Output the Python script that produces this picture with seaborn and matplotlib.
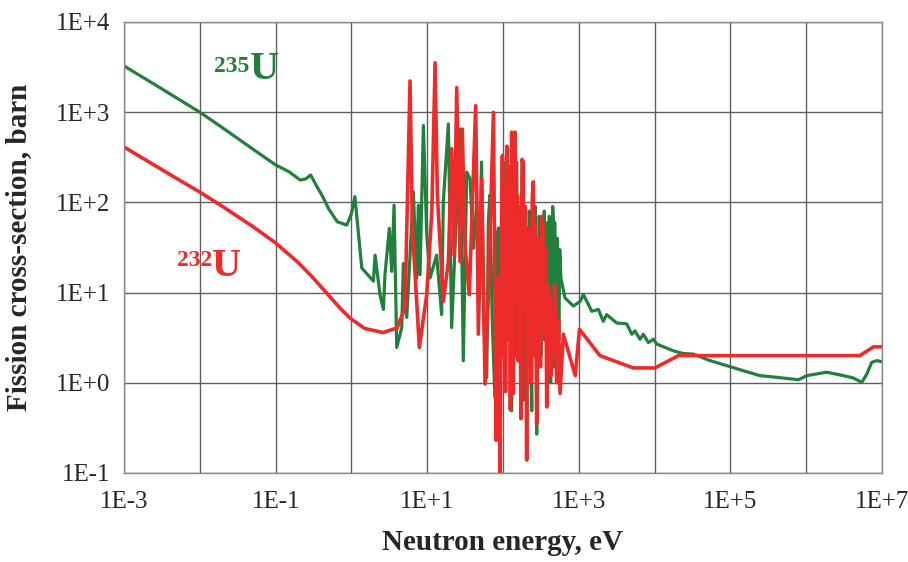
import matplotlib
matplotlib.use("Agg")
import matplotlib.pyplot as plt
from matplotlib.ticker import NullLocator
import seaborn as sns
import pandas as pd

# ─────────────────────────────────────────────
# Dane (energia w eV, przekrój w barnach)
u235_energy = [
    0.001, 0.0022, 0.005, 0.01, 0.02, 0.05, 0.1, 0.15, 0.21, 0.25,
    0.29, 0.35, 0.42, 0.5, 0.65, 0.87, 1.0, 1.11, 1.37, 1.95,
    2.05, 2.38, 2.64, 2.77, 3.16, 3.4, 3.65, 3.96, 4.61, 4.84,
    5.37, 6.56, 7.26, 7.63, 8.04, 8.9, 9.85, 10.9, 13.3, 15.5,
    16.3, 19.0, 21.0, 24.5, 27.1, 29.9, 33.2, 36.7, 40.6, 45.0,
    48.0, 52.0, 56.0, 61.0, 64.0, 67.0, 72.0, 78.0, 82.0, 87.0,
    91.0, 96.0, 101, 106, 111, 117, 123, 130, 137, 144,
    151, 159, 167, 172, 176, 181, 185, 192, 199, 205,
    214, 222, 230, 239, 245, 251, 258, 265, 271, 278,
    285, 293, 300, 308, 316, 324, 332, 340, 350, 360,
    368, 377, 390, 400, 408, 417, 425, 435, 445, 452,
    461, 470, 480, 490, 500, 520, 545, 560, 580, 658,
    848, 1040, 1150, 1480, 1810, 2100, 2330, 3160, 4290, 4990,
    5500, 6410, 7100, 8260, 9620, 10700, 17700, 23900, 32400, 53800,
    89300, 148000, 246000, 408000, 787000, 1.02e6, 1.86e6, 3.09e6, 4.19e6, 5.4e6,
    6.3e6, 7.3e6, 8.5e6, 1.0e7,
]
u235_sigma = [
    3250, 2180, 1430, 1000, 670, 390, 260, 219, 177, 182,
    201, 150, 115, 85, 61, 56, 75, 116, 18.7, 13.4,
    26, 9.5, 6.5, 15.8, 51.6, 17.2, 93, 2.46, 4.1, 21,
    5.3, 131, 14.5, 93, 15.8, 710, 44, 14.5, 26, 5.7,
    102, 740, 4.1, 86, 650, 1.75, 217, 183, 31, 102,
    8.0, 280, 4.0, 1.15, 60, 120, 5.0, 0.69, 40, 52,
    3.0, 120, 280, 10, 150, 9.5, 70, 0.49, 40, 2.0,
    280, 4.0, 90, 9.5, 120, 3.0, 0.64, 60, 8.0, 52,
    1.5, 80, 5.0, 0.49, 40, 72, 4.0, 90, 10, 0.27,
    30, 3.0, 70, 44, 2.0, 60, 6.0, 31, 80, 5.0,
    50, 0.76, 60, 3.0, 70, 44, 1.0, 50, 5.0, 90,
    56, 1.5, 60, 8.0, 18.7, 40, 3.0, 30, 14.5, 8.7,
    7.1, 8.0, 9.5, 6.2, 6.5, 4.8, 5.7, 4.6, 4.5, 3.45,
    3.76, 3.04, 3.45, 2.79, 3.04, 2.68, 2.26, 2.11, 2.08, 1.76,
    1.55, 1.36, 1.2, 1.15, 1.08, 1.2, 1.31, 1.2, 1.13, 1.01,
    1.25, 1.68, 1.76, 1.71,
]

u232_energy = [
    0.001, 0.002, 0.005, 0.01, 0.02, 0.05, 0.1, 0.2, 0.3, 0.47,
    0.7, 0.96, 1.5, 2.61, 4.0, 5.1, 5.93, 6.37, 7.87, 9.85,
    11.5, 12.7, 13.6, 16.3, 19.0, 21.0, 22.6, 24.5, 27.1, 29.0,
    31.5, 35.9, 43.6, 47.3, 52.4, 57.9, 64.1, 74.7, 81.0, 86.7,
    91.0, 98.0, 101, 104, 108, 112, 116, 120, 125, 130,
    134, 137, 141, 144, 150, 155, 159, 165, 172, 178,
    185, 190, 197, 205, 212, 220, 227, 235, 243, 251,
    260, 268, 278, 288, 301, 312, 325, 340, 355, 366,
    377, 395, 417, 430, 452, 480, 510, 540, 565, 625,
    897, 1020, 1900, 5240, 10100, 20600, 5.1e6, 7.7e6, 1.0e7,
]
u232_sigma = [
    411, 290, 183, 130, 90, 54, 35.5, 21.4, 15.1, 9.9,
    6.8, 5.2, 4.0, 3.6, 4.06, 6.8, 2220, 52, 2.46, 9.5,
    79, 3530, 120, 8.0, 22, 393, 26, 1870, 22, 650,
    34, 9.5, 1180, 3.46, 183, 0.97, 9.5, 995, 0.23, 14.5,
    0.09, 330, 2.0, 150, 0.8, 420, 3.0, 250, 0.5, 600,
    5.0, 0.76, 200, 600, 8.0, 120, 1.75, 60, 0.4, 300,
    280, 6.0, 90, 0.139, 40, 3.0, 52, 1.0, 110, 169,
    2.0, 60, 0.35, 25, 40, 1.5, 70, 52, 3.0, 30,
    0.54, 12, 8.0, 1.2, 2.68, 12, 1.0, 5.0, 0.76, 3.46,
    1.2, 3.92, 2.0, 1.46, 1.46, 2.0, 2.0, 2.5, 2.5,
]

x_ticks = [1e-3, 1e-2, 1e-1, 1e0, 1e1, 1e2, 1e3, 1e4, 1e5, 1e6, 1e7]
x_tick_labels = ["1E-3", "", "1E-1", "", "1E+1", "", "1E+3", "", "1E+5", "", "1E+7"]
y_ticks = [1e-1, 1e0, 1e1, 1e2, 1e3, 1e4]
y_tick_labels = ["1E-1", "1E+0", "1E+1", "1E+2", "1E+3", "1E+4"]

GREEN = "#21803c"
RED = "#ee2b2b"

sns.set_style("white")
plt.rcParams["font.family"] = ["Liberation Serif", "DejaVu Serif"]

fig = plt.figure(figsize=(9.08, 5.62), dpi=100)
ax = fig.add_axes([0.1366, 0.1584, 0.8348, 0.8025])

df_235 = pd.DataFrame({"energy": u235_energy, "sigma": u235_sigma})
df_232 = pd.DataFrame({"energy": u232_energy, "sigma": u232_sigma})

sns.lineplot(data=df_235, x="energy", y="sigma", sort=False, estimator=None,
             color=GREEN, lw=2.3, ax=ax)
sns.lineplot(data=df_232, x="energy", y="sigma", sort=False, estimator=None,
             color=RED, lw=2.6, ax=ax)

ax.set_xscale("log")
ax.set_yscale("log")
ax.set_xlim(1e-3, 1e7)
ax.set_ylim(0.1, 1e4)
ax.set_xticks(x_ticks)
ax.set_xticklabels(x_tick_labels)
ax.set_yticks(y_ticks)
ax.set_yticklabels(y_tick_labels)
ax.xaxis.set_minor_locator(NullLocator())
ax.yaxis.set_minor_locator(NullLocator())
ax.tick_params(axis="x", length=0, labelsize=18, pad=13)
ax.tick_params(axis="y", length=0, labelsize=18, pad=10)

ax.grid(True, color="#606060", lw=1.0)
ax.set_axisbelow(True)
for sp in ax.spines.values():
    sp.set_color("#8a8a8a")
    sp.set_linewidth(1.0)

ax.set_xlabel("Neutron energy, eV", fontsize=21, fontweight="bold")
ax.set_ylabel("Fission cross-section, barn", fontsize=21, fontweight="bold")
ax.xaxis.set_label_coords(0.5, -0.125)
ax.yaxis.set_label_coords(-0.122, 0.50)

# etykiety izotopów
ax.text(0.166, 0.873, "U", transform=ax.transAxes, fontsize=29,
        fontweight="bold", color=GREEN, ha="left", va="baseline")
ax.text(0.166, 0.888, "235", transform=ax.transAxes, fontsize=17,
        fontweight="bold", color=GREEN, ha="right", va="baseline")
ax.text(0.116, 0.436, "U", transform=ax.transAxes, fontsize=29,
        fontweight="bold", color=RED, ha="left", va="baseline")
ax.text(0.116, 0.458, "232", transform=ax.transAxes, fontsize=17,
        fontweight="bold", color=RED, ha="right", va="baseline")

fig.savefig("out.png", dpi=100)
plt.close(fig)
